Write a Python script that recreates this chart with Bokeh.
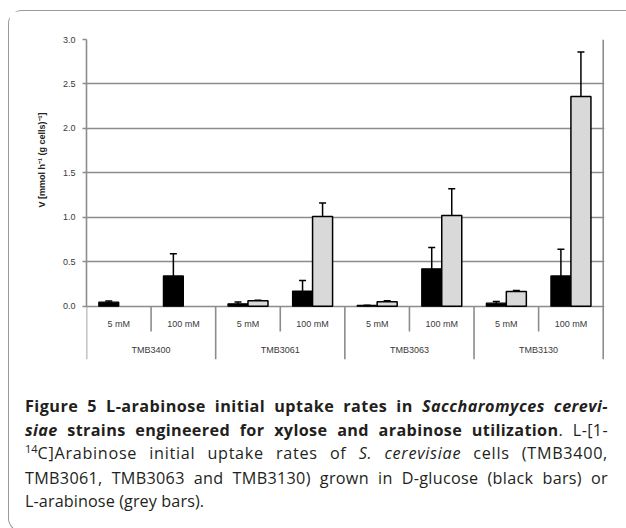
import numpy as np
from bokeh.plotting import figure
from bokeh.models import (ColumnDataSource, FixedTicker, PrintfTickFormatter, Whisker,
                          TeeHead, Range1d, Div, Title)
from bokeh.layouts import column
from bokeh.core.properties import value
from bokeh.embed import file_html
from bokeh.resources import INLINE

nan = float("nan")

# ---------------- data ----------------
strains = ["TMB3400", "TMB3061", "TMB3063", "TMB3130"]
concentrations = ["5 mM", "100 mM"]
# order: strain x concentration (5 mM, 100 mM)
glucose = [0.045, 0.34, 0.027, 0.17, 0.008, 0.42, 0.034, 0.34]
glucose_err = [0.012, 0.25, 0.02, 0.12, 0.003, 0.24, 0.018, 0.30]
arabinose = [nan, nan, 0.06, 1.01, 0.05, 1.02, 0.165, 2.36]
arabinose_err = [nan, nan, 0.006, 0.15, 0.01, 0.30, 0.01, 0.50]
y_ticks = [0.0, 0.5, 1.0, 1.5, 2.0, 2.5, 3.0]
y_label = "V [mmol h\u207b\u00b9 (g cells)\u207b\u00b9]"

# ---------------- derived positions ----------------
n_sub = len(strains) * len(concentrations)
idx = np.arange(n_sub)
centers = idx + 0.5
bw = 0.31
sub_labels = [c for s in strains for c in concentrations]

GRID = "#8c8c8c"
TXT = "#3a3a3a"
FONT = "Liberation Sans"

p = figure(width=616, height=376, output_backend="svg", toolbar_location=None,
           x_range=Range1d(0, n_sub + 0.02), y_range=Range1d(-0.6, 3.0),
           x_axis_location=None, min_border_left=77, min_border_right=21,
           min_border_top=28, min_border_bottom=28)
p.outline_line_color = None
p.xgrid.visible = False
p.ygrid.grid_line_color = GRID
p.ygrid.grid_line_width = 1.6

ax = p.yaxis[0]
ax.bounds = (y_ticks[0], y_ticks[-1])
ax.ticker = FixedTicker(ticks=y_ticks)
ax.formatter = PrintfTickFormatter(format="%.1f")
ax.axis_line_color = GRID
ax.axis_line_width = 1.6
ax.major_tick_line_color = GRID
ax.major_tick_line_width = 1.6
ax.major_tick_out = 4
ax.major_tick_in = 0
ax.minor_tick_out = 0
ax.minor_tick_in = 0
ax.major_label_text_font = FONT
ax.major_label_text_font_size = "9px"
ax.major_label_text_color = TXT
ax.major_label_standoff = 7

# y-axis title as a left-side title, placed on the 0-3 value range
p.add_layout(Title(text=y_label, align="right", offset=73, vertical_align="middle",
                   standoff=23, text_font=FONT, text_font_size="9px",
                   text_font_style="bold", text_color="#222222"), "left")

# separators below axis
inner_x = [2 * j + 1 for j in range(len(strains))]
group_x = [2 * j for j in range(len(strains) + 1)]
p.segment(x0=inner_x, y0=[0] * len(inner_x), x1=inner_x, y1=[-0.285] * len(inner_x),
          line_color=GRID, line_width=1.6)
p.segment(x0=group_x, y0=[0] * len(group_x), x1=group_x, y1=[-0.6] * len(group_x),
          line_color=GRID, line_width=1.6)
# right border of plot box
p.segment(x0=[n_sub], y0=[0], x1=[n_sub], y1=[3.0], line_color=GRID, line_width=1.6)

# bars
gsrc = ColumnDataSource(dict(x=centers - bw / 2, top=glucose,
                             upper=np.array(glucose) + np.array(glucose_err),
                             lower=np.array(glucose) - np.array(glucose_err)))
p.vbar(x="x", top="top", bottom=0, width=bw, source=gsrc,
       fill_color="black", line_color="black", line_width=1.2)

ar = np.array(arabinose)
ae = np.array(arabinose_err)
ok = ~np.isnan(ar)
asrc = ColumnDataSource(dict(x=(centers + bw / 2)[ok], top=ar[ok],
                             upper=(ar + ae)[ok], lower=(ar - ae)[ok]))
p.vbar(x="x", top="top", bottom=0, width=bw, source=asrc,
       fill_color="#d9d9d9", line_color="black", line_width=1.5)

for src in (gsrc, asrc):
    w = Whisker(source=src, base="x", upper="upper", lower="lower", dimension="height",
                line_color="black", line_width=1.5,
                upper_head=TeeHead(size=7, line_width=1.5, line_color="black"),
                lower_head=TeeHead(size=7, line_width=1.5, line_color="black"))
    p.add_layout(w)

# category labels
p.text(x=centers, y=[-0.2] * n_sub, text=sub_labels, text_align="center",
       text_baseline="middle", text_font=value(FONT), text_font_size="9px",
       text_color=TXT)
p.text(x=[2 * j + 1 for j in range(len(strains))], y=[-0.49] * len(strains), text=strains,
       text_align="center", text_baseline="middle", text_font=value(FONT),
       text_font_size="9px", text_color=TXT)

def ls(spacing):
    return ("white-space:nowrap;text-align:justify;text-align-last:justify;width:583px;"
            f"letter-spacing:{spacing}px;")

caption = f"""
<div style="font-family:'Open Sans';font-size:16.2px;line-height:23.6px;color:#231f20;padding-left:11px;padding-top:3px;">
<div style="{ls(0.45)}"><b>Figure 5 L-arabinose initial uptake rates in <i>Saccharomyces cerevi-</i></b></div>
<div style="{ls(0.35)}"><b><i>siae</i> strains engineered for xylose and arabinose utilization</b>. L-[1-</div>
<div style="{ls(0.7)}"><span style="font-size:11px;position:relative;top:-6px;letter-spacing:0;">14</span>C]Arabinose initial uptake rates of <i>S. cerevisiae</i> cells (TMB3400,</div>
<div style="{ls(0.3)}">TMB3061, TMB3063 and TMB3130) grown in D-glucose (black bars) or</div>
<div style="white-space:nowrap;letter-spacing:0.1px;">L-arabinose (grey bars).</div>
</div>
"""
div = Div(text=caption, width=616, height=134)

layout = column(p, div, styles={"border": "1.5px solid #9a9a9a", "border-right": "none",
                                "border-radius": "14px 0 0 14px", "margin-top": "10px",
                                "margin-left": "8px"})

open("out.html", "w").write(file_html(layout, INLINE))
